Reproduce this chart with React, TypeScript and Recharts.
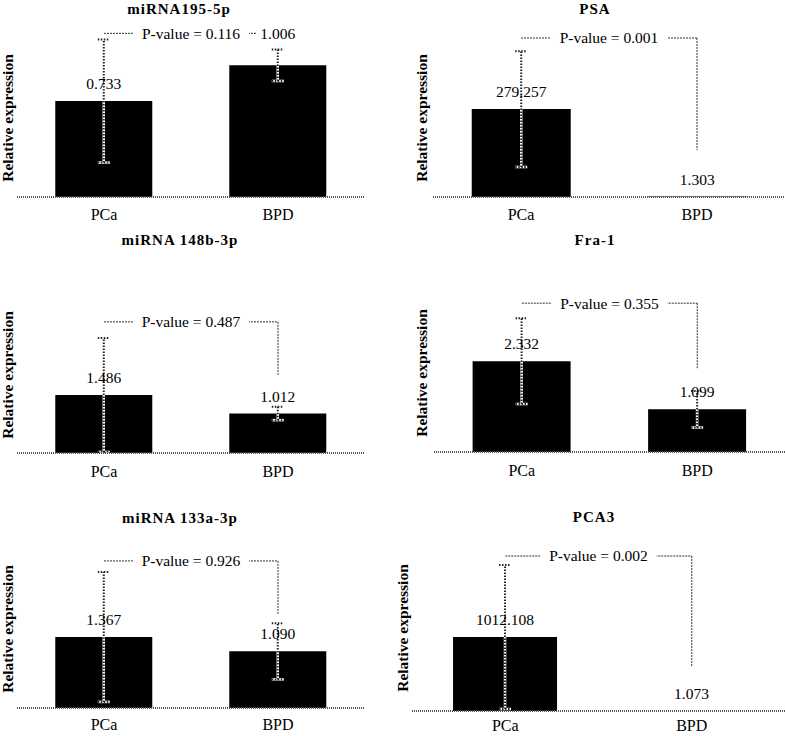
import React from "react";
import {
  BarChart,
  Bar,
  XAxis,
  YAxis,
  ErrorBar,
  LabelList,
  ReferenceLine,
} from "recharts";

// Seis paineis (3x2): expressao relativa PCa vs BPD, com desvio e p-valor.
const FONT = '"Liberation Serif", "Times New Roman", serif';

const categories = ["PCa", "BPD"];

const titles = ["miRNA195-5p", "PSA", "miRNA 148b-3p", "Fra-1", "miRNA 133a-3p", "PCA3"];

const mir195 = [0.733, 1.006];
const mir195Err = [0.47, 0.12];
const psa = [279.257, 1.303];
const psaErr = [184, 0];
const mir148b = [1.486, 1.012];
const mir148bErr = [1.46, 0.17];
const fra1 = [2.332, 1.099];
const fra1Err = [1.1, 0.47];
const mir133a = [1.367, 1.09];
const mir133aErr = [1.25, 0.54];
const pca3 = [1012.108, 1.073];
const pca3Err = [985, 0];

const pValues = ["0.116", "0.001", "0.487", "0.355", "0.926", "0.002"];
// altura do colchete do p-valor e onde desce a perna do lado BPD (unidades do eixo)
const bracketLevels = [1.25, 505, 3.36, 3.82, 2.83, 2120];
const bracketDrops = [null, 149, 2.0, 2.15, 1.79, 602];

const series = [
  [mir195, mir195Err],
  [psa, psaErr],
  [mir148b, mir148bErr],
  [fra1, fra1Err],
  [mir133a, mir133aErr],
  [pca3, pca3Err],
];

type Layout = {
  left: number;
  top: number;
  width: number;
  plotH: number;
  axisH: number;
  ml: number;
  mr: number;
  yMax: number;
  tx: number;
  ty: number;
  lx: number;
  ly: number;
  tickMargin: number;
  lift?: number[];
};

const layouts: Layout[] = [
  { left: 0, top: 15, width: 375, plotH: 182, axisH: 40, ml: 17, mr: 10, yMax: 1.39, tx: 179, ty: 9, lx: 8, ly: 118, tickMargin: 6, lift: [0, 14] },
  { left: 395, top: 15, width: 390, plotH: 182, axisH: 40, ml: 38, mr: 0, yMax: 578, tx: 595, ty: 9, lx: 422, ly: 118, tickMargin: 6 },
  { left: 0, top: 300, width: 375, plotH: 153, axisH: 40, ml: 17, mr: 10, yMax: 3.92, tx: 180, ty: 240, lx: 8, ly: 375, tickMargin: 7 },
  { left: 395, top: 295, width: 390, plotH: 157, axisH: 40, ml: 39, mr: 0, yMax: 4.03, tx: 595, ty: 240, lx: 422, ly: 373, tickMargin: 7 },
  { left: 0, top: 550, width: 375, plotH: 158, axisH: 28, ml: 17, mr: 10, yMax: 3.04, tx: 180, ty: 518, lx: 8, ly: 629, tickMargin: 5 },
  { left: 395, top: 545, width: 390, plotH: 166, axisH: 25, ml: 17, mr: 0, yMax: 2271, tx: 594, ty: 517, lx: 403, ly: 628, tickMargin: 3 },
];

function BracketLabel(props: any) {
  const { viewBox, text } = props;
  if (!viewBox) return null;
  const cx = viewBox.x + (viewBox.width || 0) / 2;
  const cy = viewBox.y + (viewBox.height || 0) / 2;
  return (
    <g>
      <rect x={cx - 58} y={cy - 8} width={116} height={16} fill="#fff" />
      <text x={cx} y={cy} dy="0.35em" textAnchor="middle" fontSize={15.5} fill="#000" fontFamily={FONT}>
        {text}
      </text>
    </g>
  );
}

function Panel({ idx }: { idx: number }) {
  const [values, errors] = series[idx];
  const lay = layouts[idx];
  const level = bracketLevels[idx];
  const drop = bracketDrops[idx];
  const data = categories.map((name, i) => ({ name, value: values[i], err: errors[i] }));

  return (
    <>
      <div
        style={{
          position: "absolute",
          left: lay.tx,
          top: lay.ty,
          transform: "translate(-50%, -50%)",
          fontWeight: "bold",
          fontSize: 15,
          letterSpacing: 1,
          whiteSpace: "nowrap",
          lineHeight: 1,
        }}
      >
        {titles[idx]}
      </div>
      <div
        style={{
          position: "absolute",
          left: lay.lx,
          top: lay.ly,
          transform: "translate(-50%, -50%) rotate(-90deg)",
          fontWeight: "bold",
          fontSize: 15.5,
          whiteSpace: "nowrap",
          lineHeight: 1,
        }}
      >
        Relative expression
      </div>
      <div style={{ position: "absolute", left: lay.left, top: lay.top }}>
        <BarChart
          width={lay.width}
          height={lay.plotH + lay.axisH}
          data={data}
          margin={{ top: 0, right: lay.mr, left: lay.ml, bottom: 0 }}
          barCategoryGap="22%"
        >
          <XAxis
            dataKey="name"
            height={lay.axisH}
            tickLine={false}
            tickMargin={lay.tickMargin}
            axisLine={{ stroke: "#555", strokeWidth: 2, strokeDasharray: "1 1" }}
            tick={{ fontSize: 16, fill: "#000", fontFamily: FONT }}
          />
          <YAxis hide domain={[0, lay.yMax]} allowDataOverflow />
          <Bar dataKey="value" fill="#000" isAnimationActive={false}>
            <LabelList
              dataKey="value"
              content={(p: any) => {
                const lift = lay.lift ? lay.lift[p.index] || 0 : 0;
                const cx = p.x + p.width / 2;
                const y = p.y - 12 - lift;
                return (
                  <g>
                    {lift > 0 && <rect x={cx - 21} y={y - 12} width={42} height={14} fill="#fff" />}
                    <text x={cx} y={y} textAnchor="middle" fontSize={15.5} fill="#000" fontFamily={FONT}>
                      {Number(p.value).toFixed(3)}
                    </text>
                  </g>
                );
              }}
            />
            <ErrorBar dataKey="err" width={6} stroke="#fff" strokeWidth={2.5} direction="y" />
            <ErrorBar dataKey="err" width={6} stroke="#222" strokeWidth={2} strokeDasharray="1.5 1.5" direction="y" />
          </Bar>
          <ReferenceLine
            segment={[
              { x: "PCa", y: level },
              { x: "BPD", y: level },
            ]}
            stroke="#333"
            strokeDasharray="2 1"
            ifOverflow="visible"
            label={(p: any) => <BracketLabel {...p} text={`P-value = ${pValues[idx]}`} />}
          />
          {drop != null && (
            <ReferenceLine
              segment={[
                { x: "BPD", y: level },
                { x: "BPD", y: drop },
              ]}
              stroke="#333"
              strokeDasharray="2 1"
              ifOverflow="visible"
            />
          )}
        </BarChart>
      </div>
    </>
  );
}

export default function App() {
  return (
    <div
      style={{
        position: "absolute",
        left: 0,
        top: 0,
        width: 785,
        height: 736,
        overflow: "hidden",
        background: "#fff",
        fontFamily: FONT,
        color: "#000",
      }}
    >
      {titles.map((_, i) => (
        <Panel key={i} idx={i} />
      ))}
    </div>
  );
}
